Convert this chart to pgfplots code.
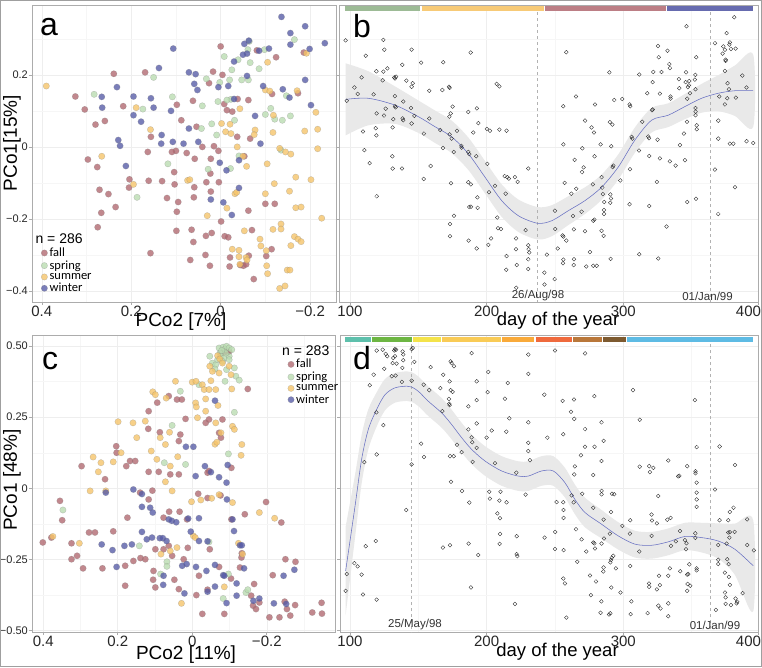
\documentclass[border=0pt]{standalone}
\usepackage{fontspec}
\setmainfont{Liberation Sans}
\newfontfamily\legfont{Carlito}
\usepackage{pgfplots}
\pgfplotsset{compat=1.18}
\definecolor{fallc}{HTML}{B0676F}
\definecolor{springc}{HTML}{B9DCB0}
\definecolor{summerc}{HTML}{F6C468}
\definecolor{winterc}{HTML}{555AA6}
\definecolor{curveb}{HTML}{6870C2}
\pgfplotsset{
 scat/.style={only marks, mark=*, mark size=3.2pt, mark options={fill=#1, fill opacity=0.78, draw=black!50, draw opacity=0.45, line width=0.3pt}},
 oc/.style={only marks, mark=o, mark size=1.9pt, mark options={black!85, line width=0.35pt}},
 panel/.style={scale only axis, axis line style={gray!65, line width=0.9pt}, tick pos=left, tick align=outside, major tick length=3pt, minor tick length=0pt, tick style={gray!65, line width=0.6pt}, grid=both, major grid style={gray!13, line width=0.45pt}, minor grid style={gray!7, line width=0.3pt}, xticklabel style={font=\fontsize{15}{15}\selectfont, text=black!85, inner sep=1pt}, yticklabel style={font=\fontsize{11}{11}\selectfont, text=black!85, inner sep=1pt}, axis background/.style={fill=white}},
}
\begin{document}
\begin{tikzpicture}
\useasboundingbox (0pt,0pt) rectangle (762pt,667pt);
\fill[white] (0pt,0pt) rectangle (762pt,667pt);
% ---------------- panel a
\begin{axis}[panel, at={(32pt,365pt)}, anchor=south west, width=304pt, height=297pt,
 x dir=reverse, xmin=-0.258, xmax=0.422, ymin=-0.4306, ymax=0.394,
 xtick={-0.2,0,0.2,0.4}, xticklabels={−0.2,0,0.2,0.4}, minor xtick={-0.1,0.1,0.3},
 ytick={-0.4,-0.2,0,0.2}, yticklabels={−0.4,−0.2,0,0.2}, minor ytick={-0.3,-0.1,0.1,0.3},
 legend style={at={(axis description cs:0.012,0.236)}, anchor=north west, draw=none, fill=none, inner sep=0pt, row sep=-1.5pt, font=\legfont\fontsize{12.5}{13}\selectfont}, legend cell align=left]
\addlegendimage{empty legend}\addlegendentry{\hspace*{-14pt}\normalfont\fontsize{14}{14}\selectfont n = 286}
\addplot[scat=fallc] coordinates {(0,0.279)(-0.124,0.249)(-0.186,0.262)(-0.081,0.268)(0.017,0.209)(-0.004,0.200)(0.026,0.177)(0.239,0.203)(0.169,0.207)(0.325,0.140)(0.218,0.113)(0.098,0.117)(0.062,0.128)(-0.008,0.119)(-0.038,0.133)(-0.062,0.130)(-0.115,0.147)(-0.173,0.149)(-0.014,0.102)(-0.026,0.098)(0.280,0.062)(0.259,0.072)(0.297,-0.035)(0.276,-0.056)(0.271,-0.119)(0.251,-0.131)(0.267,-0.183)(0.235,-0.167)(0.275,-0.223)(0.157,-0.295)(0.204,-0.090)(0.205,-0.113)(0.161,-0.094)(0.131,-0.095)(0.104,-0.070)(0.103,-0.104)(0.120,-0.142)(0.095,-0.153)(0.098,-0.180)(0.099,-0.233)(0.065,-0.230)(0.061,-0.264)(0.068,-0.314)(0.034,-0.300)(0.020,-0.239)(0.024,-0.330)(-0.009,-0.248)(-0.017,-0.251)(-0.021,-0.307)(-0.020,-0.332)(-0.044,-0.328)(-0.051,-0.330)(-0.057,-0.326)(-0.063,-0.302)(-0.070,-0.231)(-0.074,-0.367)(-0.114,-0.284)(-0.102,-0.303)(-0.100,-0.158)(-0.121,-0.158)(-0.062,-0.177)(-0.001,-0.207)(0.004,-0.098)(0.023,-0.074)(0.022,-0.124)(0.022,-0.033)(0.005,-0.011)(0.058,-0.033)(0.076,-0.017)(0.041,0)(0.015,0.002)(0.059,-0.112)(0.060,-0.140)(0.032,-0.098)(0.033,-0.247)(0.100,-0.011)(0.109,-0.014)(0.054,0.056)(0.088,0.074)(-0.037,0.028)(-0.066,0.023)(-0.053,-0.026)(0.163,-0.014)(0.156,0.028)(0.304,0.104)};
\addlegendentry{fall}
\addplot[scat=springc] coordinates {(-0.165,0.298)(-0.098,0.270)(-0.064,0.293)(-0.061,0.270)(-0.008,0.251)(-0.039,0.242)(-0.066,0.234)(-0.086,0.217)(-0.025,0.214)(-0.062,0.186)(-0.047,0.186)(0.032,0.189)(0.002,0.179)(-0.020,0.186)(-0.023,0.132)(-0.014,0.130)(0.006,0.126)(0.041,0.114)(0.108,0.139)(0.150,0.193)(0.174,0.105)(0.283,0.146)(-0.112,0.107)(-0.100,0.090)(-0.121,0.077)(-0.156,0.086)(-0.138,0.074)(-0.147,0.142)(-0.031,0.074)(-0.041,-0.025)(-0.022,-0.060)(0.009,0.033)(0.028,-0.062)(0.043,0.051)(0.020,0.064)(-0.135,-0.009)(0.118,-0.047)(0.187,-0.140)};
\addlegendentry{spring}
\addplot[scat=summerc] coordinates {(0.390,0.169)(-0.105,0.235)(-0.192,0.260)(-0.171,0.156)(-0.100,0.158)(-0.110,0.155)(-0.118,0.088)(-0.213,0.096)(-0.217,0.049)(-0.188,0.044)(-0.217,-0.005)(-0.117,0.040)(-0.077,0.047)(-0.075,0.034)(-0.021,0.063)(-0.043,0.106)(-0.002,0.065)(-0.011,0.042)(-0.023,0.037)(-0.037,0)(-0.050,-0.026)(-0.058,-0.054)(0.157,0.048)(0.189,0.109)(0.266,-0.026)(0.195,-0.104)(0.074,-0.093)(0.030,-0.191)(-0.014,-0.170)(-0.032,-0.130)(-0.036,-0.126)(-0.100,-0.130)(-0.120,-0.102)(-0.168,-0.084)(-0.202,-0.091)(-0.226,-0.198)(-0.168,-0.169)(-0.180,-0.167)(-0.135,-0.214)(-0.135,-0.228)(-0.117,-0.229)(-0.165,-0.249)(-0.173,-0.256)(-0.180,-0.263)(-0.157,-0.274)(-0.088,-0.256)(-0.090,-0.275)(-0.102,-0.288)(-0.053,-0.233)(-0.026,-0.284)(-0.041,-0.287)(-0.057,-0.307)(-0.059,-0.314)(-0.103,-0.330)(-0.105,-0.352)(-0.149,-0.342)(-0.155,-0.342)(-0.132,-0.393)(-0.144,-0.386)(-0.132,-0.004)(-0.145,-0.014)(-0.157,-0.020)(-0.104,-0.047)(-0.154,-0.123)(-0.043,-0.326)(-0.041,-0.305)(0.069,-0.091)};
\addlegendentry{summer}
\addplot[scat=winterc] coordinates {(-0.136,0.361)(-0.156,0.316)(-0.189,0.335)(-0.233,0.288)(-0.156,0.284)(-0.199,0.272)(-0.108,0.273)(-0.086,0.267)(-0.063,0.295)(-0.053,0.286)(-0.059,0.259)(-0.050,0.256)(-0.030,0.237)(-0.059,0.197)(0.106,0.273)(0.138,0.219)(0.071,0.207)(0.056,0.202)(0.059,0.175)(0.052,0.158)(0.005,0.166)(-0.017,0.169)(-0.030,0.133)(-0.095,0.169)(-0.139,0.160)(-0.154,0.137)(-0.202,0.116)(-0.077,0.086)(-0.189,0.186)(0.232,0.166)(0.266,0.139)(0.265,0.109)(0.195,0.140)(0.195,0.088)(0.156,0.135)(0.150,0.109)(0.111,0.100)(0.178,0.070)(0.132,0.033)(0.133,0.009)(0.107,0.014)(0.083,0.009)(0.050,0.014)(0.229,0.019)(0.225,0.003)(0.212,-0.053)(0.071,0.051)(0.002,-0.044)(-0.013,-0.065)(-0.041,-0.037)(-0.089,0.009)(0.022,-0.146)(-0.006,-0.154)(-0.025,-0.189)(-0.041,-0.114)};
\addlegendentry{winter}
\end{axis}
% ---------------- panel b
\begin{axis}[panel, at={(339pt,365pt)}, anchor=south west, width=419pt, height=297pt,
 xmin=91.95, xmax=398.6, ymin=-0.4306, ymax=0.394,
 xtick={100,200,300,398.6}, xticklabels={100,200,300,{\makebox[0pt][r]{400\hspace{-3pt}}}}, minor xtick={150,250,350},
 ytick={-0.4,-0.2,0,0.2}, yticklabels={,,,}, minor ytick={-0.3,-0.1,0.1,0.3}]
\addplot[fill=gray!17, draw=none, smooth] coordinates {(96.8,0.232)(113.4,0.210)(132.9,0.168)(150.0,0.129)(162.2,0.101)(174.4,0.073)(186.6,0.026)(198.8,-0.039)(211.0,-0.104)(223.2,-0.146)(237.3,-0.167)(247.6,-0.162)(259.8,-0.137)(272.0,-0.112)(284.1,-0.077)(296.3,-0.021)(308.5,0.054)(320.7,0.108)(332.9,0.121)(345.1,0.147)(357.3,0.175)(369.5,0.199)(381.7,0.226)(395.1,0.256)(395.1,0.056)(381.7,0.086)(369.5,0.099)(357.3,0.095)(345.1,0.077)(332.9,0.055)(320.7,0.040)(308.5,-0.016)(296.3,-0.091)(284.1,-0.147)(272.0,-0.186)(259.8,-0.217)(247.6,-0.248)(237.3,-0.257)(223.2,-0.236)(211.0,-0.194)(198.8,-0.129)(186.6,-0.064)(174.4,-0.017)(162.2,0.011)(150.0,0.039)(132.9,0.064)(113.4,0.060)(96.8,0.032)};
\addplot[gray!60, dashed, line width=0.5pt] coordinates {(237.1,-0.5)(237.1,0.5)};
\addplot[gray!60, dashed, line width=0.5pt] coordinates {(363.9,-0.5)(363.9,0.5)};
\addplot[oc] coordinates {(96.8,0.296)(97.6,0.128)(103.2,0.165)(105.6,0.147)(108.5,0.193)(109.5,0.043)(110.5,-0.009)(111.5,0.253)(114.4,-0.045)(117.3,0.146)(119.3,0.210)(119.5,0.093)(118.8,0.052)(119.3,0.032)(119.5,-0.137)(123.9,0.185)(124.4,0.297)(125.1,0.270)(126.1,0.106)(124.4,0.209)(127.3,0.218)(124.9,0.087)(131.2,0.054)(131.0,-0.026)(131.2,-0.060)(131.7,0.077)(132.4,0.193)(132.9,0.190)(133.7,0.195)(132.9,0.141)(132.9,0.113)(133.4,0.110)(138.5,0.079)(139.0,0.074)(138.0,-0.060)(138.3,0.228)(139.0,0.126)(141.2,0.184)(144.6,0.108)(145.1,0.167)(145.1,0.065)(145.9,0.177)(147.1,0.086)(145.1,0.270)(152.0,0.234)(154.1,0.037)(153.9,-0.089)(158.0,0.156)(159.0,-0.053)(158.0,0.079)(166.1,0.047)(167.6,0.158)(168.0,-0.003)(168.3,0.235)(172.4,0.167)(172.9,0.164)(172.7,0.084)(173.7,0.093)(175.1,0.112)(172.9,0.035)(174.4,0.023)(173.2,-0.248)(173.2,-0.214)(173.9,-0.101)(175.9,-0.014)(176.1,-0.191)(178.3,0.045)(181.5,0.003)(181.7,-0.002)(186.6,-0.014)(187.3,-0.020)(186.6,-0.098)(188.5,-0.104)(186.6,0.097)(186.8,-0.260)(187.3,-0.167)(188.5,-0.166)(188.3,0.262)(190.2,0.040)(192.4,-0.026)(192.9,0.107)(193.2,-0.140)(193.4,-0.169)(193.9,0.066)(192.7,-0.282)(200.2,0.050)(201.2,-0.272)(202.4,0.045)(200.5,-0.047)(201.7,-0.126)(203.2,-0.254)(206.1,-0.108)(207.3,0.175)(209.3,0.168)(207.8,-0.196)(208.3,-0.226)(210.5,-0.228)(209.3,0.048)(213.2,-0.081)(213.9,-0.130)(214.6,0.045)(215.1,-0.084)(214.6,-0.303)(214.4,-0.341)(216.3,-0.088)(220.7,-0.084)(222.7,-0.097)(221.5,-0.254)(221.5,-0.284)(222.0,-0.328)(221.7,-0.391)(228.5,-0.231)(230.5,-0.060)(230.5,-0.273)(230.7,-0.284)(231.2,-0.293)(230.5,-0.312)(230.5,-0.339)(242.2,-0.349)(242.4,-0.382)(244.1,-0.299)(250.0,-0.177)(249.8,-0.367)(250.2,-0.228)(252.0,-0.282)(255.6,-0.246)(256.1,-0.249)(256.1,-0.313)(255.9,-0.323)(258.3,0.263)(256.1,0.113)(257.1,-0.100)(256.1,0.007)(258.3,-0.260)(262.0,-0.130)(263.2,-0.192)(263.9,-0.229)(264.4,-0.036)(265.4,0.140)(265.6,-0.116)(263.7,-0.328)(263.9,-0.312)(269.5,-0.180)(270.0,-0.004)(269.8,-0.070)(271.0,-0.057)(272.0,0.073)(272.0,-0.234)(272.9,-0.332)(275.6,-0.292)(276.8,0.054)(278.5,0.040)(279.3,0.118)(279.0,-0.026)(278.0,-0.330)(280.5,-0.330)(277.8,-0.104)(278.0,-0.205)(278.8,-0.202)(283.4,0.007)(284.6,-0.113)(284.1,-0.084)(285.1,-0.131)(284.1,-0.233)(285.6,-0.247)(285.9,-0.186)(285.9,-0.175)(286.1,-0.153)(289.8,0.207)(290.2,0.069)(291.0,-0.143)(290.5,-0.132)(290.5,-0.155)(290.7,-0.311)(291.2,0.002)(292.0,0.062)(292.7,-0.052)(292.2,-0.056)(293.4,0.130)(297.8,-0.093)(299.3,0.133)(304.6,-0.159)(304.9,-0.062)(304.6,0.118)(305.1,0.113)(306.1,0.028)(306.6,0.023)(311.5,-0.010)(311.7,0.201)(311.7,-0.298)(313.9,0.070)(317.6,0.149)(318.3,0.029)(318.8,0.024)(319.0,-0.025)(319.0,-0.164)(321.0,0.102)(321.5,0.104)(321.5,0.180)(322.0,0.208)(324.6,-0.097)(325.1,0.020)(325.4,0.280)(325.9,0.249)(325.6,-0.310)(326.8,-0.032)(326.8,0.148)(328.0,0.208)(331.7,-0.221)(332.4,0.267)(333.7,0.230)(334.1,0.219)(334.1,-0.040)(334.6,0.140)(334.6,0.134)(338.3,-0.052)(340.7,0.188)(341.0,0.163)(341.5,0.005)(344.4,0.037)(345.1,-0.037)(345.6,0.180)(345.9,0.207)(346.3,0.335)(346.6,0.070)(346.8,0.134)(346.8,-0.153)(347.3,0.166)(348.0,0.171)(348.3,0.183)(348.8,0.149)(352.4,0.187)(352.7,0.200)(352.9,0.160)(352.9,0.108)(353.4,0.249)(352.9,0.098)(352.9,0.088)(353.7,0.060)(353.7,0.049)(353.2,-0.144)(367.1,0.288)(367.1,-0.063)(369.5,0.073)(369.5,-0.186)(369.5,0.023)(370.2,0.140)(372.7,0.259)(373.2,0.279)(374.4,0.270)(374.9,0.242)(374.9,0.239)(374.4,0.211)(374.4,0.118)(375.6,0.316)(376.1,0.135)(376.3,0.177)(377.3,0.160)(377.6,0.284)(378.0,0.290)(378.0,0.009)(378.8,0.272)(380.5,0.009)(381.2,0.360)(381.7,-0.112)(382.2,0.273)(382.4,0.137)(387.1,0.198)(390.2,0.165)(390.2,0.016)(395.1,0.011)};
\addplot[curveb, line width=0.55pt, smooth] coordinates {(96.8,0.132)(113.4,0.135)(132.9,0.116)(150.0,0.084)(162.2,0.056)(174.4,0.028)(186.6,-0.019)(198.8,-0.084)(211.0,-0.149)(223.2,-0.191)(237.3,-0.212)(247.6,-0.205)(259.8,-0.177)(272.0,-0.149)(284.1,-0.112)(296.3,-0.056)(308.5,0.019)(320.7,0.074)(332.9,0.088)(345.1,0.112)(357.3,0.135)(369.5,0.149)(381.7,0.156)(395.1,0.156)};
\addplot[springc!85!black, line width=4.5pt] coordinates {(96.3,0.384)(151.2,0.384)};
\addplot[summerc!90!white, line width=4.5pt] coordinates {(152.4,0.384)(242,0.384)};
\addplot[fallc!85!white, line width=4.5pt] coordinates {(242.7,0.384)(331.2,0.384)};
\addplot[winterc!90!white, line width=4.5pt] coordinates {(332,0.384)(395.1,0.384)};
\end{axis}
% ---------------- panel c
\begin{axis}[panel, at={(32pt,35pt)}, anchor=south west, width=303pt, height=297pt,
 x dir=reverse, xmin=-0.383, xmax=0.430, ymin=-0.5046, ymax=0.5386,
 xtick={-0.2,0,0.2,0.4}, xticklabels={−0.2,0,0.2,0.4}, minor xtick={-0.3,-0.1,0.1,0.3},
 ytick={-0.5,-0.25,0,0.25,0.5}, yticklabels={−0.50,−0.25,0,0.25,0.50}, minor ytick={-0.375,-0.125,0.125,0.375},
 legend style={at={(axis description cs:0.826,0.972)}, anchor=north west, draw=none, fill=none, inner sep=0pt, row sep=-1.5pt, font=\legfont\fontsize{12.5}{13}\selectfont}, legend cell align=left]
\addlegendimage{empty legend}\addlegendentry{\hspace*{-14pt}\normalfont\fontsize{14}{14}\selectfont n = 283}
\addplot[scat=fallc] coordinates {(-0.077,0.475)(-0.086,0.478)(-0.090,0.481)(-0.095,0.478)(-0.099,0.481)(-0.149,0.349)(0.094,0.301)(0.063,0.324)(0.041,0.312)(0.028,0.312)(0.117,0.271)(0.018,0.244)(0.118,0.209)(0.087,0.197)(0.032,0.189)(0.036,0.166)(-0.036,0.230)(-0.045,0.242)(-0.081,0.242)(-0.072,0.195)(-0.077,0.178)(-0.105,0.072)(0.204,0.148)(0.203,0.125)(0.297,0.078)(0.177,0.078)(0.167,0.096)(0.153,0.096)(0.117,0.058)(0.090,0.058)(0.059,0.049)(0.036,0.049)(-0.041,0.055)(-0.045,0.061)(-0.016,-0.019)(0.107,-0.008)(0.117,-0.039)(0.140,-0.015)(0.034,-0.082)(0.062,-0.082)(0.077,-0.103)(0.014,-0.109)(-0.041,-0.034)(-0.076,-0.025)(-0.105,-0.109)(-0.141,-0.091)(-0.198,-0.048)(-0.239,-0.120)(0.174,-0.103)(0.212,-0.151)(0.261,-0.155)(0.277,-0.155)(0.324,-0.193)(0.309,-0.237)(0.324,-0.249)(0.349,-0.112)(0.355,-0.044)(0.401,-0.190)(0.378,-0.173)(0.241,-0.281)(0.180,-0.272)(0.139,-0.245)(0.077,-0.214)(0.063,-0.202)(0.054,-0.237)(0.023,-0.249)(-0.018,-0.307)(-0.011,-0.375)(-0.027,-0.441)(-0.041,-0.356)(-0.072,-0.276)(-0.086,-0.441)(-0.104,-0.317)(-0.128,-0.278)(-0.132,-0.243)(-0.133,-0.228)(-0.166,-0.336)(-0.158,-0.377)(-0.163,-0.412)(-0.171,-0.424)(-0.180,-0.401)(-0.207,-0.453)(-0.234,-0.453)(-0.248,-0.398)(-0.254,-0.424)(-0.263,-0.447)(-0.276,-0.410)(-0.277,-0.258)(-0.250,-0.249)(-0.216,-0.305)(-0.347,-0.402)(-0.322,-0.436)(-0.348,-0.440)(0.104,-0.290)(0.099,-0.348)(0.158,-0.255)(0.234,0.032)(0.012,-0.209)(-0.047,-0.214)(0.099,-0.214)(0.126,-0.249)(0.180,-0.342)(0.293,-0.281)(0.036,-0.354)(0.105,-0.321)(0.048,-0.321)};
\addlegendentry{fall}
\addplot[scat=springc] coordinates {(-0.047,0.464)(-0.072,0.493)(-0.083,0.496)(-0.088,0.489)(-0.092,0.499)(-0.099,0.493)(-0.074,0.475)(-0.077,0.464)(-0.086,0.458)(-0.081,0.446)(-0.099,0.464)(-0.106,0.487)(-0.054,0.440)(-0.063,0.434)(-0.061,0.419)(-0.092,0.417)(-0.113,0.423)(-0.088,0.376)(-0.117,0.394)(-0.126,0.380)(-0.099,0.452)(-0.090,0.475)(-0.079,0.484)(-0.068,0.452)(-0.018,0.364)(0.032,0.341)(0.054,0.221)(0.018,0.084)(0.075,0.090)(-0.113,0.267)(-0.097,0.121)(0.347,-0.076)(0.142,-0.202)(0.068,-0.258)(0.068,-0.274)(0.085,-0.301)(-0.097,-0.301)(-0.083,-0.387)(-0.144,-0.366)(-0.149,-0.356)(-0.045,-0.188)};
\addlegendentry{spring}
\addplot[scat=summerc] coordinates {(-0.047,0.429)(-0.054,0.411)(-0.068,0.466)(-0.074,0.454)(-0.081,0.440)(-0.099,0.429)(-0.104,0.399)(-0.050,0.378)(-0.072,0.405)(-0.106,0.349)(0.045,0.376)(0,0.373)(-0.010,0.376)(-0.027,0.364)(-0.032,0.347)(-0.045,0.347)(-0.063,0.347)(0.106,0.339)(0.099,0.329)(0.070,0.317)(-0.009,0.300)(-0.011,0.286)(-0.036,0.314)(-0.036,0.271)(-0.069,0.291)(-0.014,0.248)(-0.063,0.230)(-0.077,0.195)(-0.108,0.218)(-0.113,0.207)(-0.133,0.154)(-0.131,0.116)(-0.061,0.155)(-0.066,0.162)(0.199,0.234)(0.159,0.230)(0.149,0.178)(0.126,0.236)(0.086,0.178)(0.110,0.131)(0.095,0.102)(0.072,0.154)(0.061,0.197)(0.039,0.111)(0.059,0.078)(0.266,0.110)(0.245,0.090)(0.252,0.058)(0.212,0.093)(0.191,0.125)(0.274,-0.009)(0.232,-0.009)(0.072,0.023)(0.054,-0.009)(0.002,-0.047)(-0.023,-0.041)(-0.052,-0.035)(-0.072,-0.022)(-0.108,-0.050)(-0.180,-0.085)(-0.221,-0.105)(-0.003,-0.167)(-0.008,-0.173)(0.041,-0.208)(0.059,-0.220)(0.084,-0.231)(-0.124,-0.193)(-0.135,-0.231)(-0.086,-0.346)(0.029,-0.404)(0.303,-0.193)(0.374,-0.169)};
\addlegendentry{summer}
\addplot[scat=winterc] coordinates {(-0.061,0.308)(0.017,0.146)(-0.003,0.146)(-0.034,0.078)(-0.009,0.043)(-0.050,0.057)(-0.072,0.039)(-0.092,0.020)(-0.095,0.082)(-0.093,-0.039)(-0.108,-0.109)(-0.112,-0.150)(0.158,-0.004)(0.232,-0.015)(0.135,-0.020)(0.113,-0.068)(0.106,-0.085)(0.063,-0.109)(0.135,-0.065)(0.055,-0.114)(0.011,-0.106)(-0.018,-0.105)(0.004,-0.152)(0.043,-0.119)(0.108,-0.173)(0.087,-0.175)(0.079,-0.175)(0.069,-0.185)(0.122,-0.179)(0.135,-0.153)(0.162,-0.197)(0.182,-0.202)(0.214,-0.217)(0.243,-0.197)(0.203,-0.276)(0.077,-0.307)(0.078,-0.339)(0.021,-0.369)(0.027,-0.272)(0.015,-0.266)(-0.010,-0.276)(-0.038,-0.290)(-0.061,-0.269)(-0.083,-0.305)(-0.086,-0.307)(-0.061,-0.345)(-0.041,-0.363)(-0.092,-0.403)(-0.119,-0.334)(-0.119,-0.377)(-0.164,-0.395)(-0.245,-0.307)(-0.219,-0.404)(-0.274,-0.286)(-0.252,-0.406)(-0.128,-0.200)(-0.133,-0.200)(-0.139,-0.281)(-0.180,-0.387)(-0.018,-0.185)(-0.041,-0.186)};
\addlegendentry{winter}
\end{axis}
% ---------------- panel d
\begin{axis}[panel, at={(340pt,35pt)}, anchor=south west, width=418pt, height=297pt,
 xmin=92.68, xmax=398.6, ymin=-0.5046, ymax=0.5386,
 xtick={100,200,300,398.6}, xticklabels={100,200,300,{\makebox[0pt][r]{400\hspace{-3pt}}}}, minor xtick={150,250,350},
 ytick={-0.5,-0.25,0,0.25,0.5}, yticklabels={,,,,}, minor ytick={-0.375,-0.125,0.125,0.375}]
\addplot[fill=gray!17, draw=none, smooth] coordinates {(96.8,-0.135)(103.7,0.048)(108.5,0.187)(113.4,0.277)(119.5,0.337)(125.6,0.384)(132.9,0.405)(141.5,0.411)(145.1,0.408)(150.0,0.393)(157.3,0.358)(167.1,0.317)(174.4,0.276)(181.7,0.230)(189.0,0.189)(198.8,0.148)(211.0,0.113)(223.2,0.095)(230.5,0.095)(240.2,0.113)(248.8,0.113)(257.3,0.072)(264.6,0.013)(272.0,-0.033)(284.1,-0.076)(296.3,-0.119)(308.5,-0.149)(320.7,-0.153)(332.9,-0.141)(345.1,-0.121)(357.3,-0.121)(369.5,-0.123)(381.7,-0.124)(395.1,-0.112)(395.1,-0.432)(381.7,-0.304)(369.5,-0.247)(357.3,-0.225)(345.1,-0.217)(332.9,-0.235)(320.7,-0.247)(308.5,-0.243)(296.3,-0.215)(284.1,-0.176)(272.0,-0.137)(264.6,-0.091)(257.3,-0.032)(248.8,0.009)(240.2,0.009)(230.5,-0.009)(223.2,-0.009)(211.0,0.009)(198.8,0.044)(189.0,0.085)(181.7,0.126)(174.4,0.172)(167.1,0.213)(157.3,0.254)(150.0,0.289)(145.1,0.304)(141.5,0.307)(132.9,0.301)(125.6,0.274)(119.5,0.217)(113.4,0.137)(108.5,0.017)(103.7,-0.172)(96.8,-0.445)};
\addplot[gray!60, dashed, line width=0.5pt] coordinates {(145.1,-0.6)(145.1,0.6)};
\addplot[gray!60, dashed, line width=0.5pt] coordinates {(363.9,-0.6)(363.9,0.6)};
\addplot[oc] coordinates {(96.8,-0.360)(97.6,-0.301)(103.2,-0.263)(105.6,-0.274)(108.5,-0.303)(109.5,-0.373)(110.5,0.092)(111.5,-0.203)(114.4,0.362)(117.3,0.399)(118.8,-0.185)(119.5,0.119)(119.3,0.267)(119.5,-0.391)(119.5,0.484)(123.9,0.487)(124.4,0.222)(125.1,0.420)(126.1,0.472)(127.3,0.464)(131.2,0.440)(130.5,0.394)(131.7,0.458)(132.4,0.484)(132.9,0.489)(133.7,0.487)(132.9,0.464)(133.4,0.396)(134.1,0.438)(138.5,0.481)(139.0,0.450)(138.0,0.374)(138.3,0.423)(139.0,0.470)(141.2,-0.076)(145.1,0.084)(145.9,0.493)(145.1,0.378)(147.1,0.444)(145.1,0.489)(152.0,0.157)(154.1,0.110)(153.9,0.364)(158.0,0.345)(159.0,0.426)(166.1,0.352)(167.6,0.271)(168.0,-0.208)(168.3,0.399)(172.4,0.314)(172.9,0.376)(172.7,0.297)(173.7,0.345)(175.1,0.339)(172.9,0.292)(173.2,-0.200)(173.9,0.023)(175.9,0.113)(176.1,0.429)(178.3,0.153)(173.2,0.113)(173.7,0.446)(174.4,0.440)(181.7,0.127)(182.0,-0.009)(186.6,0.207)(186.6,0.288)(186.8,-0.194)(187.3,-0.050)(188.5,-0.348)(189.0,0.475)(189.0,0.179)(189.5,0.162)(189.8,0.093)(192.7,0.142)(192.7,0.376)(192.7,0.310)(192.7,0.228)(193.9,-0.234)(200.0,0.178)(200.7,0.338)(201.2,0.409)(201.9,-0.012)(202.4,-0.036)(203.7,0.203)(206.1,0.088)(207.8,-0.088)(209.3,-0.043)(209.8,-0.105)(210.2,-0.012)(209.8,-0.160)(209.5,-0.195)(213.4,0.315)(214.4,0.199)(214.6,-0.049)(215.4,0.370)(216.6,0.246)(220.7,-0.406)(221.7,0.055)(222.0,-0.168)(222.0,-0.231)(222.4,-0.238)(228.5,-0.022)(230.5,0.470)(230.5,0.402)(230.5,0.232)(230.5,0.160)(230.5,0.131)(231.7,0.099)(242.2,0.329)(242.4,-0.173)(244.4,0.178)(250.0,0.484)(250.2,-0.153)(250.0,-0.213)(251.2,-0.048)(255.6,0.307)(256.1,-0.049)(256.3,-0.076)(256.3,-0.104)(256.1,-0.317)(257.3,-0.334)(256.3,-0.217)(256.1,0.190)(258.3,-0.454)(261.7,0.269)(262.2,-0.025)(263.7,-0.049)(264.1,0.244)(263.9,0.312)(264.1,0.049)(264.6,0.077)(265.4,-0.144)(266.3,-0.258)(269.0,0.116)(269.5,-0.179)(270.0,-0.019)(272.0,0.474)(272.0,0.146)(272.0,0.208)(272.9,-0.222)(275.6,-0.306)(276.3,-0.375)(278.0,0.047)(278.0,-0.190)(278.0,-0.068)(278.8,-0.193)(278.8,0.324)(279.0,0.146)(279.3,-0.211)(280.0,-0.327)(284.1,-0.009)(284.1,-0.021)(284.1,0.096)(284.1,0.232)(285.6,0.167)(285.9,-0.176)(285.6,-0.278)(285.4,-0.292)(285.6,-0.110)(284.1,-0.194)(283.9,-0.397)(283.4,-0.437)(289.5,-0.443)(290.5,-0.439)(290.5,-0.260)(291.0,-0.252)(291.5,-0.244)(292.7,-0.237)(290.2,-0.159)(291.0,-0.083)(291.2,-0.348)(291.7,-0.019)(293.4,-0.021)(294.6,-0.281)(298.0,-0.366)(299.3,-0.132)(304.9,-0.159)(305.1,-0.273)(305.1,-0.112)(305.4,-0.442)(305.9,-0.397)(307.1,0.345)(311.7,-0.222)(312.0,0.076)(312.0,0.241)(317.8,-0.438)(318.8,-0.334)(319.0,-0.346)(319.0,0.078)(319.5,0.057)(320.7,-0.167)(320.7,-0.092)(321.0,-0.113)(322.0,0.072)(324.6,-0.123)(324.6,-0.355)(325.6,-0.027)(326.1,-0.307)(326.8,-0.340)(325.6,-0.412)(327.3,-0.422)(332.9,-0.307)(332.9,-0.404)(332.9,0.098)(332.2,-0.110)(334.6,-0.104)(334.9,-0.202)(332.9,-0.449)(334.1,-0.281)(338.5,-0.186)(340.2,0.042)(341.0,0.044)(341.5,-0.150)(341.7,-0.291)(345.1,-0.182)(345.9,-0.214)(346.3,-0.193)(346.8,-0.303)(346.8,-0.360)(346.8,0.078)(347.1,-0.336)(347.6,-0.301)(348.3,-0.267)(349.0,-0.342)(352.4,0.310)(352.7,-0.174)(352.9,0.060)(352.9,0.053)(352.7,-0.158)(353.7,0.145)(353.7,0.020)(353.7,-0.015)(353.7,-0.039)(353.7,-0.065)(353.7,-0.281)(353.7,-0.288)(367.1,-0.004)(367.8,-0.427)(369.5,-0.251)(369.5,-0.266)(369.5,-0.199)(370.5,-0.112)(370.5,0.147)(374.4,-0.296)(374.4,-0.366)(374.9,-0.383)(374.9,-0.406)(375.6,-0.194)(376.1,-0.249)(376.8,-0.112)(377.1,-0.266)(377.3,-0.311)(377.6,-0.173)(378.0,-0.154)(378.0,-0.083)(378.0,-0.339)(378.8,-0.410)(380.7,-0.068)(381.5,-0.153)(381.7,0.082)(382.2,-0.387)(382.9,-0.404)(383.4,-0.398)(387.3,-0.368)(390.7,-0.109)(390.7,-0.199)(395.6,-0.218)(376.8,-0.155)};
\addplot[curveb, line width=0.55pt, smooth] coordinates {(96.8,-0.290)(103.7,-0.062)(108.5,0.102)(113.4,0.207)(119.5,0.277)(125.6,0.329)(132.9,0.353)(141.5,0.359)(145.1,0.356)(150.0,0.341)(157.3,0.306)(167.1,0.265)(174.4,0.224)(181.7,0.178)(189.0,0.137)(198.8,0.096)(211.0,0.061)(223.2,0.043)(230.5,0.043)(240.2,0.061)(248.8,0.061)(257.3,0.020)(264.6,-0.039)(272.0,-0.085)(284.1,-0.126)(296.3,-0.167)(308.5,-0.196)(320.7,-0.200)(332.9,-0.188)(345.1,-0.169)(357.3,-0.173)(369.5,-0.185)(381.7,-0.214)(395.1,-0.272)};
\addplot[color={rgb,255:red,94;green,192;blue,172}, line width=4.5pt] coordinates {(96.3,0.522)(115.4,0.522)};
\addplot[color={rgb,255:red,109;green,182;blue,67}, line width=4.5pt] coordinates {(115.9,0.522)(145.6,0.522)};
\addplot[color={rgb,255:red,244;green,227;blue,74}, line width=4.5pt] coordinates {(146.3,0.522)(166.3,0.522)};
\addplot[color={rgb,255:red,249;green,203;blue,86}, line width=4.5pt] coordinates {(167.1,0.522)(210.5,0.522)};
\addplot[color={rgb,255:red,249;green,170;blue,58}, line width=4.5pt] coordinates {(211.5,0.522)(234.9,0.522)};
\addplot[color={rgb,255:red,239;green,106;blue,61}, line width=4.5pt] coordinates {(235.9,0.522)(262.7,0.522)};
\addplot[color={rgb,255:red,185;green,119;blue,58}, line width=4.5pt] coordinates {(263.4,0.522)(284.1,0.522)};
\addplot[color={rgb,255:red,125;green,90;blue,48}, line width=4.5pt] coordinates {(284.9,0.522)(301.7,0.522)};
\addplot[color={rgb,255:red,94;green,187;blue,228}, line width=4.5pt] coordinates {(302.7,0.522)(395.1,0.522)};
\end{axis}
% ---------------- labels
\node[rotate=90, font=\fontsize{19}{19}\selectfont] at (12pt,524pt) {PCo1[15\%]};
\node[rotate=90, font=\fontsize{19}{19}\selectfont] at (12pt,187pt) {PCo1 [48\%]};
\node[font=\fontsize{19}{19}\selectfont] at (181pt,345pt) {PCo2 [7\%]};
\node[font=\fontsize{19}{19}\selectfont] at (186pt,12pt) {PCo2 [11\%]};
\node[font=\fontsize{18.5}{18.5}\selectfont] at (558pt,346pt) {day of the year};
\node[font=\fontsize{18.5}{18.5}\selectfont] at (557.5pt,15pt) {day of the year};
\node[font=\fontsize{32}{32}\selectfont] at (49pt,640pt) {a};
\node[font=\fontsize{32}{32}\selectfont] at (362pt,641pt) {b};
\node[font=\fontsize{32}{32}\selectfont] at (50pt,306pt) {c};
\node[font=\fontsize{32}{32}\selectfont] at (362pt,309pt) {d};
\node[font=\fontsize{11.5}{11.5}\selectfont, text=black!80] at (538pt,371.5pt) {26/Aug/98};
\node[font=\fontsize{11.5}{11.5}\selectfont, text=black!80] at (707.5pt,371pt) {01/Jan/99};
\node[font=\fontsize{11.5}{11.5}\selectfont, text=black!80] at (415pt,42pt) {25/May/98};
\node[font=\fontsize{11.5}{11.5}\selectfont, text=black!80] at (715pt,42pt) {01/Jan/99};
\draw[gray!75, line width=1pt] (0.5pt,0.5pt) rectangle (761.5pt,666.5pt);
\end{tikzpicture}
\end{document}
